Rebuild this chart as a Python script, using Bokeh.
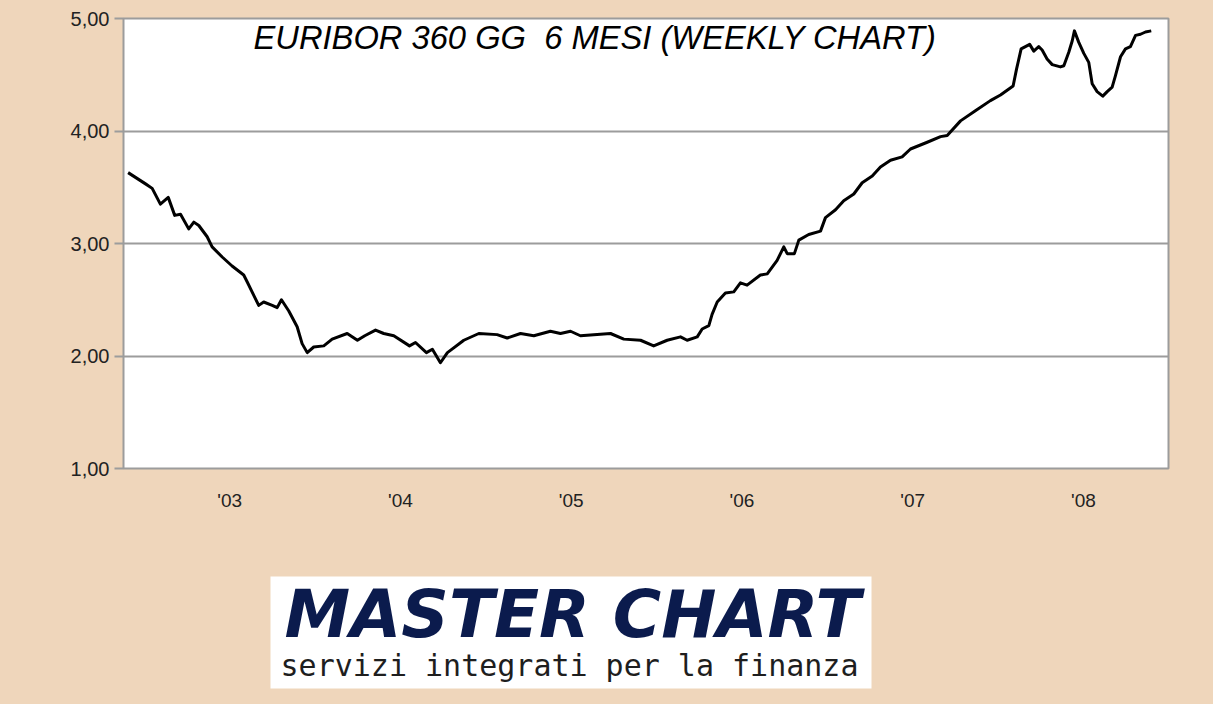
from bokeh.plotting import figure
from bokeh.models import Range1d, FixedTicker, Label, ColumnDataSource
from bokeh.layouts import column
from bokeh.embed import file_html
from bokeh.resources import INLINE
from bokeh.core.properties import value

# ---- data ----
dates_year = [
    2002.405, 2002.507, 2002.546, 2002.594, 2002.640, 2002.678, 2002.712, 2002.760,
    2002.790, 2002.819, 2002.868, 2002.897, 2002.956, 2003.014, 2003.082, 2003.102,
    2003.131, 2003.170, 2003.199, 2003.249, 2003.278, 2003.303, 2003.346, 2003.395,
    2003.424, 2003.454, 2003.492, 2003.551, 2003.600, 2003.688, 2003.748, 2003.791,
    2003.854, 2003.902, 2003.961, 2004.053, 2004.088, 2004.152, 2004.187, 2004.234,
    2004.275, 2004.371, 2004.459, 2004.566, 2004.625, 2004.703, 2004.781, 2004.878,
    2004.937, 2004.996, 2005.054, 2005.230, 2005.308, 2005.406, 2005.483, 2005.562,
    2005.640, 2005.679, 2005.738, 2005.767, 2005.806, 2005.825, 2005.855, 2005.903,
    2005.952, 2005.991, 2006.030, 2006.108, 2006.148, 2006.206, 2006.245, 2006.265,
    2006.307, 2006.333, 2006.391, 2006.460, 2006.489, 2006.548, 2006.596, 2006.655,
    2006.704, 2006.763, 2006.811, 2006.870, 2006.938, 2006.987, 2007.085, 2007.163,
    2007.202, 2007.280, 2007.367, 2007.455, 2007.514, 2007.588, 2007.608, 2007.635,
    2007.660, 2007.685, 2007.709, 2007.738, 2007.758, 2007.787, 2007.817, 2007.865,
    2007.885, 2007.914, 2007.934, 2007.947, 2007.972, 2008.002, 2008.031, 2008.051,
    2008.080, 2008.113, 2008.139, 2008.168, 2008.187, 2008.217, 2008.246, 2008.275,
    2008.305, 2008.334, 2008.363, 2008.397,
]
rate = [
    3.63, 3.53, 3.49, 3.35, 3.41, 3.25, 3.26, 3.13,
    3.19, 3.16, 3.06, 2.97, 2.88, 2.80, 2.72, 2.66,
    2.57, 2.45, 2.48, 2.45, 2.43, 2.50, 2.40, 2.26,
    2.11, 2.03, 2.08, 2.09, 2.15, 2.20, 2.14, 2.18,
    2.23, 2.20, 2.18, 2.09, 2.12, 2.03, 2.06, 1.94,
    2.03, 2.14, 2.20, 2.19, 2.16, 2.20, 2.18, 2.22,
    2.20, 2.22, 2.18, 2.20, 2.15, 2.14, 2.09, 2.14,
    2.17, 2.14, 2.17, 2.24, 2.27, 2.37, 2.48, 2.56,
    2.57, 2.65, 2.63, 2.72, 2.73, 2.85, 2.97, 2.91,
    2.91, 3.03, 3.08, 3.11, 3.23, 3.30, 3.38, 3.44,
    3.54, 3.60, 3.68, 3.74, 3.77, 3.84, 3.90, 3.95,
    3.96, 4.09, 4.18, 4.27, 4.32, 4.40, 4.55, 4.73,
    4.75, 4.77, 4.71, 4.75, 4.72, 4.64, 4.59, 4.57,
    4.58, 4.70, 4.80, 4.89, 4.79, 4.69, 4.61, 4.42,
    4.35, 4.31, 4.35, 4.39, 4.49, 4.66, 4.73, 4.75,
    4.85, 4.86, 4.88, 4.89,
]
year_ticks = [2003, 2004, 2005, 2006, 2007, 2008]
year_labels = ["'03", "'04", "'05", "'06", "'07", "'08"]
y_ticks = [1, 2, 3, 4, 5]
y_labels = ["1,00", "2,00", "3,00", "4,00", "5,00"]
title_text = "EURIBOR 360 GG\u00a0 6 MESI (WEEKLY CHART)"
logo_main = "MASTER CHART"
logo_sub = "servizi integrati per la finanza"

BG = "#EFD6BB"
GRID = "#9C9C9C"

# page geometry (pixels)
W, H, H1 = 1213, 704, 552
FL, FR, FT, FB = 123, 1168, 18, 468
X0, X1 = 2002.378, 2008.498
Y0, Y1 = 1.0, 5.0


def px_to_x(px):
    return X0 + (px - FL) * (X1 - X0) / (FR - FL)


def py_to_y(py):
    return Y0 + (FB - py) * (Y1 - Y0) / (FB - FT)


# ---- main chart ----
p = figure(
    width=W, height=H1,
    frame_width=FR - FL, frame_height=FB - FT,
    min_border_left=FL, min_border_right=W - FR, min_border_top=FT, min_border_bottom=H1 - FB,
    x_range=Range1d(X0, X1), y_range=Range1d(Y0, Y1),
    output_backend="svg", toolbar_location=None,
    background_fill_color="white", border_fill_color=BG,
)
p.outline_line_color = GRID
p.outline_line_width = 2

src = ColumnDataSource(dict(x=dates_year, y=rate))
p.line("x", "y", source=src, line_color="black", line_width=3, line_join="round")

p.xaxis.ticker = FixedTicker(ticks=year_ticks)
p.xaxis.major_label_overrides = {t: l for t, l in zip(year_ticks, year_labels)}
p.xaxis.axis_line_color = None
p.xaxis.major_tick_line_color = None
p.xaxis.minor_tick_line_color = None
p.xaxis.major_label_standoff = 15
p.xaxis.major_label_text_font = "Liberation Sans"
p.xaxis.major_label_text_font_size = "19px"
p.xaxis.major_label_text_color = "#222222"

p.yaxis.ticker = FixedTicker(ticks=y_ticks)
p.yaxis.major_label_overrides = {t: l for t, l in zip(y_ticks, y_labels)}
p.yaxis.axis_line_color = None
p.yaxis.major_tick_line_color = GRID
p.yaxis.major_tick_line_width = 2
p.yaxis.major_tick_out = 9
p.yaxis.major_tick_in = 0
p.yaxis.minor_tick_line_color = None
p.yaxis.major_label_standoff = 5
p.yaxis.major_label_text_font = "Liberation Sans"
p.yaxis.major_label_text_font_size = "20px"
p.yaxis.major_label_text_color = "#222222"

p.xgrid.grid_line_color = None
p.ygrid.ticker = FixedTicker(ticks=y_ticks)
p.ygrid.grid_line_color = GRID
p.ygrid.grid_line_width = 2

p.add_layout(Label(
    x=px_to_x(253), y=py_to_y(37), text=title_text,
    text_font="Liberation Sans", text_font_style="italic",
    text_font_size="32.7px", text_color="black",
    text_baseline="alphabetic", text_align="left",
))

# ---- logo panel: same side borders so the column keeps frames aligned;
#      its ranges are page pixels ----
q = figure(
    width=W, height=H - H1,
    frame_width=FR - FL, frame_height=H - H1,
    min_border_left=FL, min_border_right=W - FR, min_border_top=0, min_border_bottom=0,
    x_range=Range1d(FL, FR), y_range=Range1d(H, H1),
    output_backend="svg", toolbar_location=None,
    background_fill_color=BG, border_fill_color=BG,
)
q.axis.visible = False
q.grid.visible = False
q.outline_line_color = BG
q.outline_line_width = 3
q.quad(left=[270], right=[871], top=[576], bottom=[688],
       fill_color="white", line_color=None)
q.text(x=[572], y=[614], text=[logo_main],
       text_font=value("DejaVu Sans"), text_font_style="bold italic",
       text_font_size="66px", text_color="#0B1B4D",
       text_align="center", text_baseline="alphabetic")
q.text(x=[569], y=[665], text=[logo_sub],
       text_font=value("DejaVu Sans Mono"),
       text_font_size="30px", text_color="#1E1E1E",
       text_align="center", text_baseline="alphabetic")

layout = column(p, q, spacing=0, styles={"background-color": BG})
open("out.html", "w").write(file_html(layout, INLINE))
